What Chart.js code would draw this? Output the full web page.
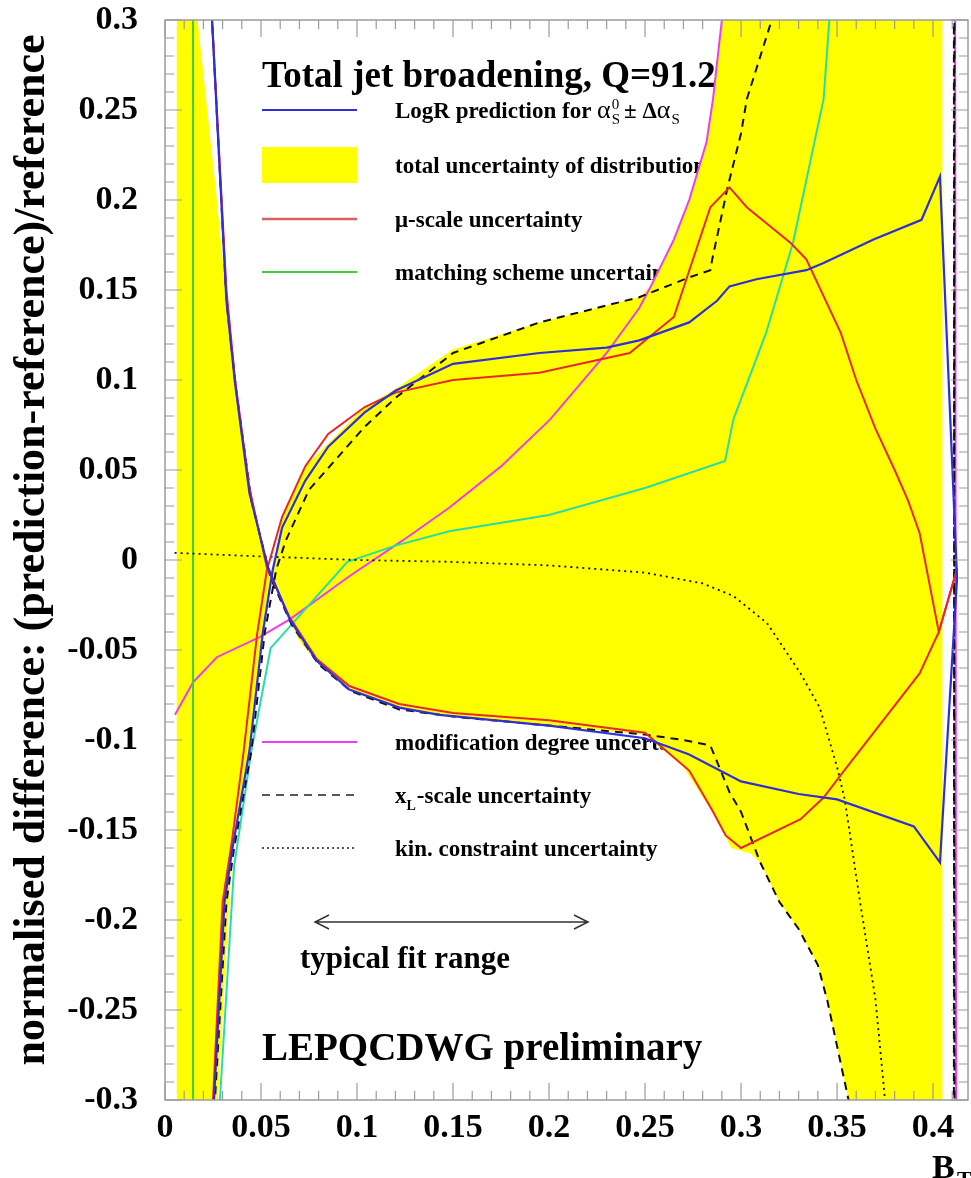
<!DOCTYPE html>
<html>
<head>
<meta charset="utf-8">
<script src="https://cdn.jsdelivr.net/npm/chart.js@4.4.0/dist/chart.umd.min.js"></script>
<style>
  html, body { margin: 0; padding: 0; background: #fff; }
  #chart { display: block; }
</style>
</head>
<body>
<canvas id="chart" width="971" height="1178"></canvas>
<script>
// B_T on x, (prediction - reference)/reference on y; points are [x, y]
const xTickValues = [0, 0.05, 0.1, 0.15, 0.2, 0.25, 0.3, 0.35, 0.4];
const yTickValues = [-0.3, -0.25, -0.2, -0.15, -0.1, -0.05, 0, 0.05, 0.1, 0.15, 0.2, 0.25, 0.3];

// LogR prediction for alpha_s +- delta alpha_s
const logRUp = [[0.02, -0.6], [0.0255, -0.3], [0.031, -0.19], [0.035, -0.161], [0.044, -0.106], [0.051, -0.04],
  [0.056, -0.006], [0.061, 0.018], [0.073, 0.044], [0.085, 0.063], [0.104, 0.082], [0.12, 0.094], [0.15, 0.109],
  [0.195, 0.115], [0.23, 0.118], [0.247, 0.122], [0.273, 0.132], [0.2875, 0.144], [0.294, 0.152], [0.308, 0.156],
  [0.334, 0.161], [0.343, 0.165], [0.369, 0.178], [0.394, 0.189], [0.4036, 0.213], [0.4125, -0.01]];
const logRDown = [[0.02, 0.6], [0.0245, 0.3], [0.032, 0.144], [0.0365, 0.098], [0.044, 0.037], [0.0536, -0.004],
  [0.065, -0.033], [0.079, -0.056], [0.096, -0.072], [0.122, -0.082], [0.143, -0.086], [0.2, -0.092], [0.25, -0.099],
  [0.273, -0.108], [0.3, -0.123], [0.33, -0.13], [0.35, -0.133], [0.39, -0.148], [0.4036, -0.168], [0.4125, -0.01]];

// mu-scale
const muUp = [[0.02, -0.6], [0.025, -0.3], [0.03, -0.19], [0.035, -0.155], [0.041, -0.106], [0.048, -0.041],
  [0.053, -0.006], [0.061, 0.024], [0.073, 0.052], [0.085, 0.07], [0.104, 0.085], [0.12, 0.093], [0.15, 0.1],
  [0.195, 0.104], [0.242, 0.115], [0.265, 0.135], [0.284, 0.196], [0.294, 0.207], [0.303, 0.196], [0.326, 0.176],
  [0.334, 0.167], [0.352, 0.126], [0.36, 0.1], [0.37, 0.073], [0.38, 0.05], [0.387, 0.033], [0.393, 0.015],
  [0.403, -0.04], [0.4125, -0.005]];
const muDown = [[0.02, 0.6], [0.0245, 0.3], [0.032, 0.15], [0.0365, 0.1], [0.044, 0.04], [0.053, -0.004],
  [0.065, -0.032], [0.079, -0.055], [0.096, -0.07], [0.122, -0.08], [0.15, -0.085], [0.2, -0.089], [0.25, -0.096],
  [0.273, -0.117], [0.285, -0.139], [0.292, -0.153], [0.3, -0.16], [0.331, -0.144], [0.343, -0.132],
  [0.353, -0.118], [0.393, -0.063], [0.403, -0.04], [0.4125, -0.005]];

// matching scheme
const matchVertical = [[0.0146, 2], [0.0146, -2]];
const matchRise = [[0.025, -0.6], [0.0286, -0.3], [0.036, -0.17], [0.045, -0.106], [0.055, -0.049], [0.095, -0.001],
  [0.12, 0.008], [0.148, 0.016], [0.2, 0.025], [0.25, 0.04], [0.2917, 0.055], [0.296, 0.078], [0.313, 0.126],
  [0.327, 0.176], [0.343, 0.256], [0.346, 0.3], [0.36, 0.6]];

// modification degree
const modDegree = [[0.0052, -0.086], [0.0146, -0.068], [0.027, -0.054], [0.049, -0.043], [0.065, -0.033],
  [0.096, -0.009], [0.124, 0.011], [0.148, 0.029], [0.175, 0.052], [0.2005, 0.078], [0.23, 0.115], [0.247, 0.14],
  [0.253, 0.152], [0.265, 0.178], [0.273, 0.2], [0.282, 0.232], [0.2854, 0.256], [0.29, 0.3], [0.3, 0.5],
  [0.41, 2], [0.4135, -2]];

// x_L-scale
const xlUp = [[0.02, -0.6], [0.026, -0.3], [0.032, -0.19], [0.036, -0.16], [0.045, -0.106], [0.052, -0.04],
  [0.058, -0.005], [0.063, 0.011], [0.075, 0.039], [0.104, 0.074], [0.12, 0.09], [0.15, 0.115], [0.195, 0.132],
  [0.247, 0.146], [0.273, 0.157], [0.284, 0.161], [0.285, 0.167], [0.293, 0.207], [0.3, 0.237], [0.303, 0.256],
  [0.316, 0.3], [0.35, 0.6], [0.41, 2], [0.412, -2]];
const xlDown = [[0.02, 0.6], [0.0245, 0.3], [0.032, 0.144], [0.037, 0.095], [0.045, 0.033], [0.055, -0.01],
  [0.066, -0.036], [0.08, -0.058], [0.097, -0.073], [0.122, -0.083], [0.15, -0.087], [0.2, -0.092], [0.25, -0.097],
  [0.27, -0.1], [0.284, -0.103], [0.294, -0.129], [0.3, -0.14], [0.31, -0.168], [0.32, -0.19], [0.33, -0.205],
  [0.34, -0.225], [0.345, -0.245], [0.35, -0.27], [0.356, -0.3], [0.38, -0.6], [0.41, -2], [0.412, 2]];

// kin. constraint
const kinConstraint = [[0.005, 0.004], [0.05, 0.002], [0.1, 0.0], [0.148, -0.001], [0.2, -0.003], [0.25, -0.007],
  [0.28, -0.013], [0.296, -0.02], [0.3135, -0.035], [0.331, -0.063], [0.341, -0.082], [0.35, -0.115],
  [0.354, -0.133], [0.362, -0.19], [0.37, -0.244], [0.375, -0.3], [0.38, -0.4]];

// edges of the total uncertainty band (they cross near 0.055)
const bandEdgeA = [[0.006, 2], [0.012, 0.6], [0.017, 0.3], [0.027, 0.2], [0.032, 0.144], [0.037, 0.098],
  [0.044, 0.037], [0.05, 0.012], [0.055, -0.008], [0.06, -0.022], [0.07, -0.045], [0.08, -0.058], [0.1, -0.074],
  [0.12, -0.082], [0.15, -0.087], [0.2, -0.092], [0.25, -0.097], [0.27, -0.115], [0.285, -0.14], [0.295, -0.16],
  [0.305, -0.163], [0.31, -0.168], [0.32, -0.19], [0.33, -0.205], [0.34, -0.225], [0.345, -0.245], [0.35, -0.27],
  [0.356, -0.3], [0.38, -0.6], [0.405, -1]];
const bandEdgeB = [[0.006, -2], [0.012, -0.8], [0.0275, -0.3], [0.035, -0.16], [0.044, -0.106], [0.05, -0.045],
  [0.056, -0.006], [0.061, 0.024], [0.073, 0.052], [0.104, 0.085], [0.12, 0.095], [0.15, 0.117], [0.195, 0.132],
  [0.247, 0.146], [0.253, 0.152], [0.265, 0.178], [0.273, 0.2], [0.282, 0.232], [0.2854, 0.256], [0.29, 0.3],
  [0.3, 0.5], [0.405, 2]];

const SERIF = '"Liberation Serif", "Times New Roman", serif';
const BLUE = "#2f2fd8";
const RED = "#e82828";
const GREEN = "#3cd23c";
const CYAN = "#28dca8";
const MAGENTA = "#ee3cee";
const YELLOW = "#ffff00";

const toPoints = (pairs) => pairs.map(([x, y]) => ({ x, y }));

const line = (data, color, extra = {}) => ({
  data: toPoints(data),
  borderColor: color,
  borderWidth: 2,
  pointRadius: 0,
  fill: false,
  tension: 0,
  ...extra,
});

const fmt = (v) => String(Number(v.toFixed(2)));

// texts, legend samples and annotations that sit under the curves
const underlay = {
  id: "underlay",
  beforeDatasetsDraw(chart) {
    const ctx = chart.ctx;
    ctx.save();
    ctx.fillStyle = "#000";
    ctx.textBaseline = "alphabetic";

    ctx.font = `bold 37px ${SERIF}`;
    ctx.fillText("Total jet broadening, Q=91.2", 262, 87);

    const sx0 = 262, sx1 = 357, tx = 395;
    const sample = (y, color, dash, width) => {
      ctx.save();
      ctx.strokeStyle = color;
      ctx.lineWidth = width;
      ctx.setLineDash(dash);
      ctx.beginPath();
      ctx.moveTo(sx0, y);
      ctx.lineTo(sx1, y);
      ctx.stroke();
      ctx.restore();
    };

    sample(110, BLUE, [], 2);
    ctx.fillStyle = YELLOW;
    ctx.fillRect(sx0, 147, sx1 - sx0, 36);
    sample(219, "#d86060", [], 2.5);
    sample(272, GREEN, [], 2);
    sample(742, MAGENTA, [], 2);
    sample(795, "#222", [8, 6], 1.6);
    sample(848, "#222", [2, 3], 1.4);

    ctx.fillStyle = "#000";
    ctx.font = `bold 23px ${SERIF}`;
    // LogR row with alpha_S^0 +- delta alpha_S
    let x = tx;
    const b1 = 118;
    ctx.fillText("LogR prediction for ", x, b1);
    x += ctx.measureText("LogR prediction for ").width;
    ctx.font = `26px ${SERIF}`;
    ctx.fillText("\u03b1", x, b1);
    x += ctx.measureText("\u03b1").width;
    ctx.font = `15px ${SERIF}`;
    ctx.fillText("0", x + 1, b1 - 9);
    ctx.fillText("S", x + 1, b1 + 6);
    x += ctx.measureText("S").width + 5;
    ctx.font = `bold 23px ${SERIF}`;
    ctx.fillText("\u00b1 \u0394", x, b1);
    x += ctx.measureText("\u00b1 \u0394").width;
    ctx.font = `26px ${SERIF}`;
    ctx.fillText("\u03b1", x, b1);
    x += ctx.measureText("\u03b1").width;
    ctx.font = `15px ${SERIF}`;
    ctx.fillText("S", x + 1, b1 + 6);

    ctx.font = `bold 23px ${SERIF}`;
    ctx.fillText("total uncertainty of distribution", tx, 173);
    ctx.fillText("\u03bc-scale uncertainty", tx, 227);
    ctx.fillText("matching scheme uncertainty", tx, 280);
    ctx.fillText("modification degree uncertainty", tx, 750);
    ctx.fillText("x", tx, 803);
    let xw = ctx.measureText("x").width;
    ctx.font = `bold 14px ${SERIF}`;
    ctx.fillText("L", tx + xw, 810);
    xw += ctx.measureText("L").width + 1;
    ctx.font = `bold 23px ${SERIF}`;
    ctx.fillText("-scale uncertainty", tx + xw, 803);
    ctx.fillText("kin. constraint uncertainty", tx, 856);

    // typical fit range arrow
    ctx.strokeStyle = "#333";
    ctx.lineWidth = 1.5;
    ctx.beginPath();
    ctx.moveTo(315, 922);
    ctx.lineTo(588, 922);
    ctx.moveTo(329, 915);
    ctx.lineTo(315, 922);
    ctx.lineTo(329, 929);
    ctx.moveTo(574, 915);
    ctx.lineTo(588, 922);
    ctx.lineTo(574, 929);
    ctx.stroke();

    ctx.font = `bold 31px ${SERIF}`;
    ctx.fillText("typical fit range", 300, 968);

    ctx.font = `bold 39px ${SERIF}`;
    ctx.fillText("LEPQCDWG preliminary", 262, 1060);
    ctx.restore();
  },
};

// frame with major and minor ticks on all four sides, axis titles
const frame = {
  id: "frame",
  afterDatasetsDraw(chart) {
    const { ctx, chartArea: a, scales } = chart;
    const x = scales.x, y = scales.y;
    ctx.save();
    ctx.strokeStyle = "#9c9c9c";
    ctx.lineWidth = 1.5;
    ctx.strokeRect(a.left, a.top, a.right - a.left, a.bottom - a.top);
    ctx.lineWidth = 1.2;
    ctx.beginPath();
    for (let i = 0; i <= 41; i++) {
      const px = x.getPixelForValue(i / 100);
      const len = i % 5 === 0 ? 17 : 9;
      ctx.moveTo(px, a.bottom);
      ctx.lineTo(px, a.bottom - len);
      ctx.moveTo(px, a.top);
      ctx.lineTo(px, a.top + len);
    }
    for (let i = -30; i <= 30; i++) {
      const py = y.getPixelForValue(i / 100);
      const len = i % 5 === 0 ? 17 : 9;
      ctx.moveTo(a.left, py);
      ctx.lineTo(a.left + len, py);
      ctx.moveTo(a.right, py);
      ctx.lineTo(a.right - len, py);
    }
    ctx.stroke();
    ctx.restore();
  },
  afterDraw(chart) {
    const ctx = chart.ctx;
    ctx.save();
    ctx.fillStyle = "#000";
    const title = "normalised difference: (prediction-reference)/reference";
    ctx.font = `bold 43px ${SERIF}`;
    const size = 43 * 1030 / ctx.measureText(title).width;
    ctx.font = `bold ${size.toFixed(1)}px ${SERIF}`;
    ctx.translate(44, 550);
    ctx.rotate(-Math.PI / 2);
    ctx.textAlign = "center";
    ctx.fillText(title, 0, 0);
    ctx.restore();

    ctx.save();
    ctx.fillStyle = "#000";
    ctx.font = `bold 34px ${SERIF}`;
    ctx.fillText("B", 932, 1178);
    ctx.font = `bold 22px ${SERIF}`;
    ctx.fillText("T", 957, 1186);
    ctx.restore();
  },
};

new Chart(document.getElementById("chart"), {
  type: "line",
  data: {
    datasets: [
      line(logRUp, BLUE, { borderWidth: 2.2 }),
      line(logRDown, BLUE, { borderWidth: 2.2 }),
      line(muUp, RED),
      line(muDown, RED),
      line(xlUp, "#111", { borderDash: [8, 6], borderWidth: 2 }),
      line(xlDown, "#111", { borderDash: [8, 6], borderWidth: 2 }),
      line(kinConstraint, "#111", { borderDash: [2, 4], borderWidth: 1.8 }),
      line(matchVertical, GREEN),
      line(matchRise, CYAN),
      line(modDegree, MAGENTA),
      line(bandEdgeA, YELLOW, { borderWidth: 0, fill: "+1", backgroundColor: YELLOW }),
      line(bandEdgeB, YELLOW, { borderWidth: 0 }),
    ],
  },
  options: {
    responsive: false,
    animation: false,
    devicePixelRatio: 1,
    layout: { padding: { top: 20, right: 3, left: 0, bottom: 0 } },
    plugins: {
      legend: { display: false },
      tooltip: { enabled: false },
    },
    scales: {
      x: {
        type: "linear",
        min: 0,
        max: 0.4182,
        grid: { display: false, drawTicks: false },
        border: { display: false },
        afterFit: (scale) => {
          scale.height = 78;
          scale.paddingLeft = 0;
          scale.paddingRight = 0;
        },
        afterBuildTicks: (scale) => { scale.ticks = xTickValues.map((value) => ({ value })); },
        ticks: {
          autoSkip: false,
          maxRotation: 0,
          padding: 8,
          color: "#000",
          font: { family: SERIF, size: 34, weight: "bold" },
          callback: (v) => fmt(v),
        },
      },
      y: {
        type: "linear",
        min: -0.3,
        max: 0.3,
        grid: { display: false, drawTicks: false },
        border: { display: false },
        afterFit: (scale) => {
          scale.width = 165;
          scale.paddingTop = 0;
          scale.paddingBottom = 0;
        },
        afterBuildTicks: (scale) => { scale.ticks = yTickValues.map((value) => ({ value })); },
        ticks: {
          autoSkip: false,
          padding: 27,
          color: "#000",
          font: { family: SERIF, size: 34, weight: "bold" },
          callback: (v) => fmt(v),
        },
      },
    },
  },
  plugins: [underlay, frame],
});
</script>
</body>
</html>
